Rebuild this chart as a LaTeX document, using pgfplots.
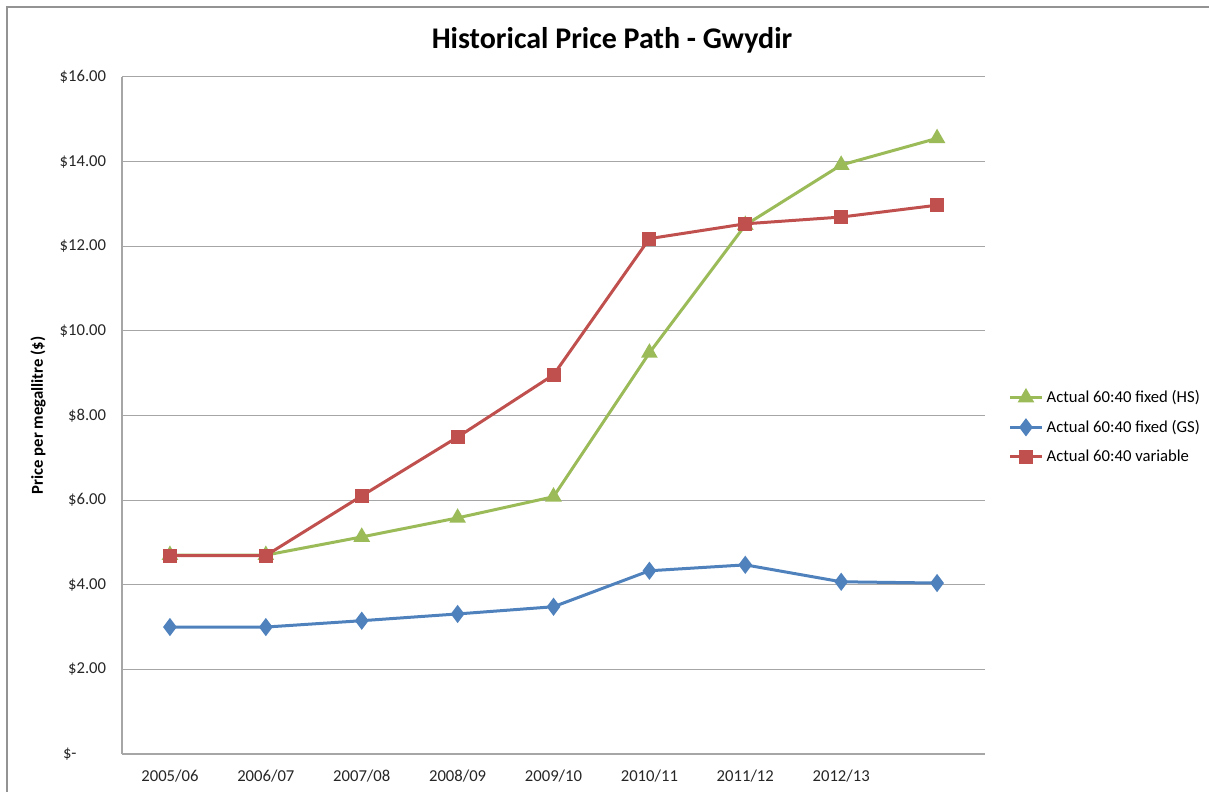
\documentclass[border=0pt]{standalone}
\usepackage{pgfplots}
\pgfplotsset{compat=1.18}
\usepackage{fontspec}
\setmainfont{Carlito}
\definecolor{cgreen}{HTML}{9BBB59}
\definecolor{cblue}{HTML}{4F81BD}
\definecolor{cred}{HTML}{C0504D}
\definecolor{cgrid}{HTML}{A6A6A6}
\begin{document}
\begin{tikzpicture}
\path[use as bounding box] (0pt,0pt) rectangle (725.4pt,475.2pt);
\draw[color=gray!85, line width=0.8pt] (4.2pt,-3pt) -- (4.2pt,471pt) -- (729pt,471pt);
\node[font=\fontsize{18}{20}\selectfont\bfseries] at (367.2pt,451.2pt) {Historical Price Path - Gwydir};
\begin{axis}[
  at={(73.2pt,22.8pt)}, anchor=south west,
  width=517.8pt, height=406.2pt, scale only axis,
  xmin=-0.5, xmax=8.5, ymin=0, ymax=16,
  xtick={0,1,2,3,4,5,6,7,8},
  xticklabels={2005/06,2006/07,2007/08,2008/09,2009/10,2010/11,2011/12,2012/13,{}},
  ytick={0,2,4,6,8,10,12,14,16},
  yticklabels={\$-\phantom{0.00},\$2.00,\$4.00,\$6.00,\$8.00,\$10.00,\$12.00,\$14.00,\$16.00},
  major tick length=0pt,
  ymajorgrids, grid style={cgrid, line width=0.6pt},
  axis x line*=bottom, axis y line*=left,
  axis line style={cgrid, line width=0.8pt, -},
  tick label style={font=\fontsize{10}{12}\selectfont, text=black!85},
  yticklabel style={xshift=-6pt},
  xticklabel style={yshift=-6pt},
  ylabel={\textbf{Price per megallitre (\$)}},
  every axis y label/.style={at={(axis description cs:-0.0973,0.5)}, rotate=90, anchor=center, font=\fontsize{10}{12}\selectfont},
  legend style={at={(1.027,0.483)}, anchor=west, draw=none, fill=none,
    font=\fontsize{10}{12}\selectfont, row sep=5pt, inner sep=0pt},
  legend cell align=left,
  legend image code/.code={\draw[#1] (0pt,0pt) -- (19pt,0pt); \draw[#1, only marks] plot coordinates {(9.5pt,0pt)};},
  every axis plot/.append style={line width=1.8pt},
]
\addplot[color=cgreen, mark=triangle*, mark size=4pt] coordinates {
 (0,4.70) (1,4.70) (2,5.13) (3,5.58) (4,6.08) (5,9.48) (6,12.50) (7,13.92) (8,14.55)};
\addlegendentry{Actual 60:40 fixed (HS)}
\addplot[color=cblue, mark=diamond*, mark size=4pt] coordinates {
 (0,3.00) (1,3.00) (2,3.15) (3,3.31) (4,3.48) (5,4.33) (6,4.47) (7,4.07) (8,4.04)};
\addlegendentry{Actual 60:40 fixed (GS)}
\addplot[color=cred, mark=square*, mark size=3.3pt] coordinates {
 (0,4.69) (1,4.69) (2,6.10) (3,7.49) (4,8.96) (5,12.18) (6,12.53) (7,12.69) (8,12.97)};
\addlegendentry{Actual 60:40 variable}
\end{axis}
\end{tikzpicture}
\end{document}
